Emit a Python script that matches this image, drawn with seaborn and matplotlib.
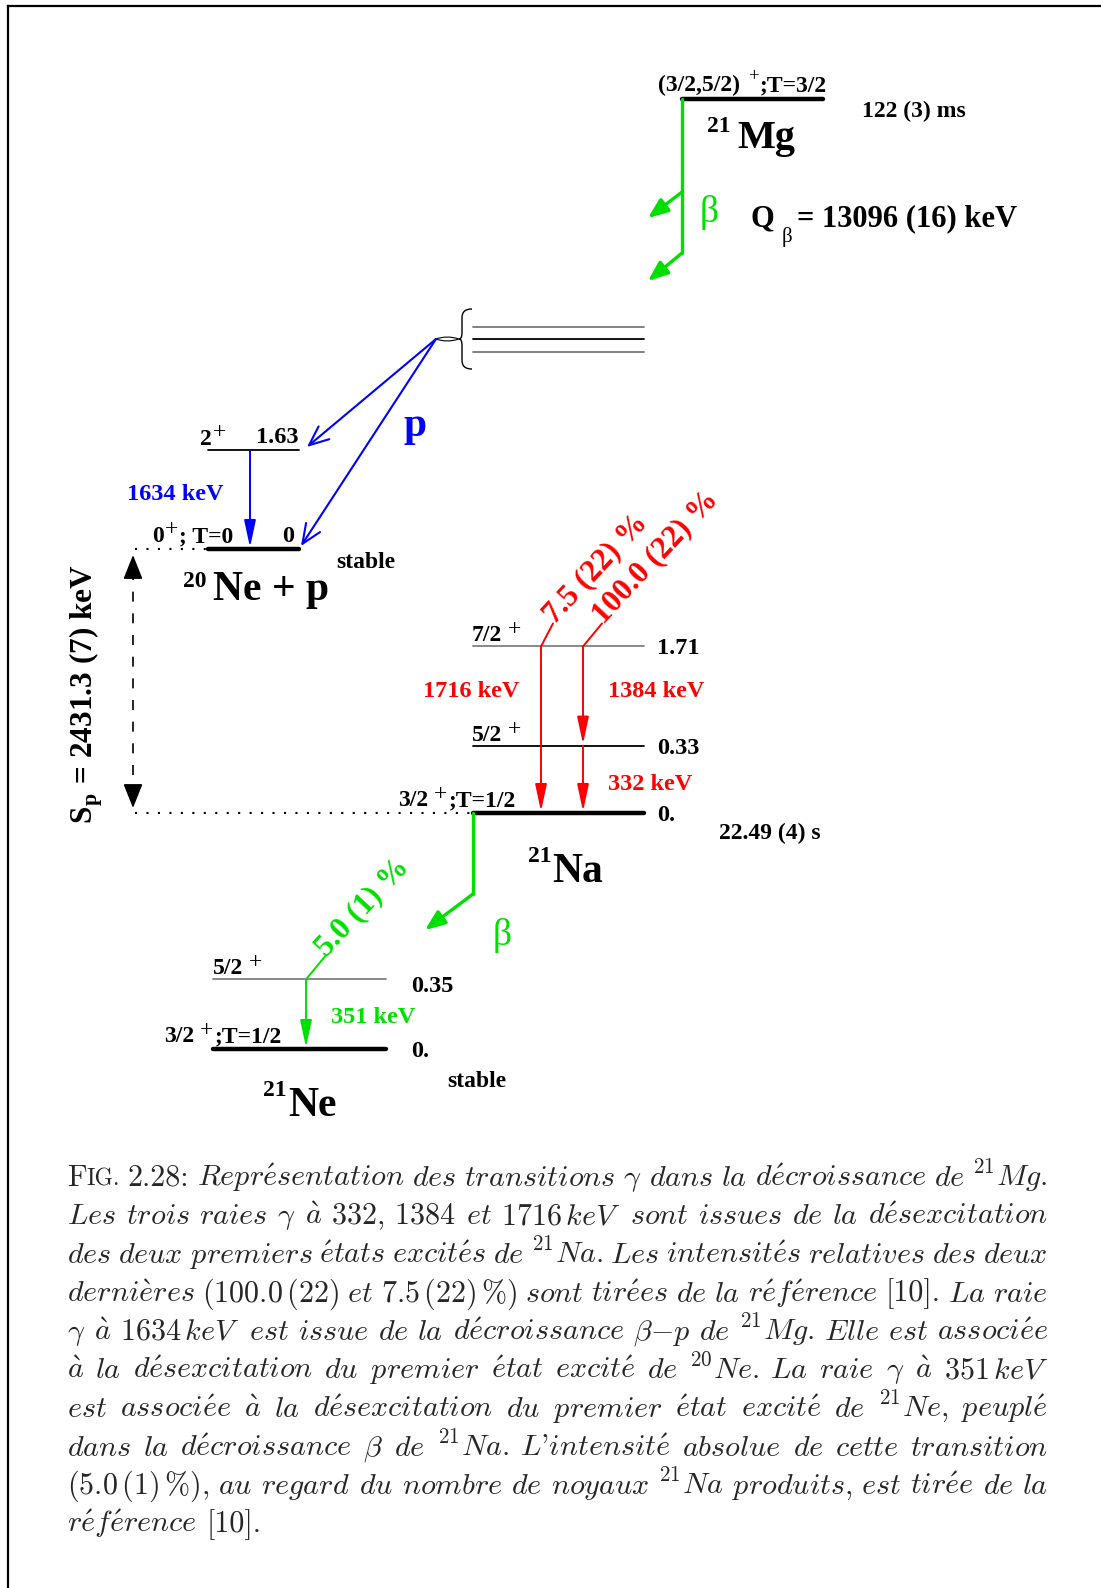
import matplotlib
matplotlib.use("Agg")
import matplotlib.pyplot as plt
from matplotlib.path import Path
from matplotlib.patches import PathPatch
import pandas as pd
import seaborn as sns

# ---------------- data ----------------
# levels: nucleus, energy (MeV), spin (base, parity, tail), energy label
LEVEL_NUCLEUS = ["21Mg", "20Ne", "20Ne", "21Na", "21Na", "21Na", "21Ne", "21Ne"]
LEVEL_ENERGY = [0.0, 0.0, 1.63, 0.0, 0.33, 1.71, 0.0, 0.35]
LEVEL_SPIN = ["(3/2,5/2)", "0", "2", "3/2", "5/2", "7/2", "3/2", "5/2"]
LEVEL_PARITY = ["+", "+", "+", "+", "+", "+", "+", "+"]
LEVEL_ISOSPIN = [";T=3/2", "; T=0", "", ";T=1/2", "", "", ";T=1/2", ""]
LEVEL_TEXT = ["", "0", "1.63", "0.", "0.33", "1.71", "0.", "0.35"]

NUCLEI = ["21Mg", "20Ne", "21Na", "21Ne"]
NUCLEUS_MASS = ["21", "20", "21", "21"]
NUCLEUS_SYMBOL = ["Mg", "Ne + p", "Na", "Ne"]
NUCLEUS_LIFE = ["122 (3) ms", "stable", "22.49 (4) s", "stable"]

# gamma transitions (level indices)
GAMMA_KEV = [1634, 1716, 1384, 332, 351]
GAMMA_FROM = [2, 5, 5, 4, 7]
GAMMA_TO = [1, 3, 4, 3, 6]
GAMMA_INTENSITY = ["", "7.5 (22) %", "100.0 (22) %", "", "5.0 (1) %"]

Q_BETA = "13096 (16) keV"
S_P = "2431.3 (7) keV"

CAPTION_LINES = [
    ["FIG.", "2.28:", r"$\mathit{Repr\acute{e}sentation}$", r"$\mathit{des}$", r"$\mathit{transitions}$",
     r"$\gamma$", r"$\mathit{dans}$", r"$\mathit{la}$", r"$\mathit{d\acute{e}croissance}$", r"$\mathit{de}$",
     r"$^{\mathrm{21}}\mathit{Mg}$."],
    [r"$\mathit{Les}$", r"$\mathit{trois}$", r"$\mathit{raies}$", r"$\gamma$", r"$\mathit{\grave{a}}$",
     r"$\mathrm{332,\,1384}$", r"$\mathit{et}$", r"$\mathrm{1716}\,\mathit{keV}$", r"$\mathit{sont}$",
     r"$\mathit{issues}$", r"$\mathit{de}$", r"$\mathit{la}$", r"$\mathit{d\acute{e}sexcitation}$"],
    [r"$\mathit{des}$", r"$\mathit{deux}$", r"$\mathit{premiers}$", r"$\mathit{\acute{e}tats}$",
     r"$\mathit{excit\acute{e}s}$", r"$\mathit{de}$", r"$^{\mathrm{21}}\mathit{Na}$.", r"$\mathit{Les}$",
     r"$\mathit{intensit\acute{e}s}$", r"$\mathit{relatives}$", r"$\mathit{des}$", r"$\mathit{deux}$"],
    [r"$\mathit{derni\grave{e}res}$", r"$\mathrm{(100.0\,(22)}$", r"$\mathit{et}$",
     r"$\mathrm{7.5\,(22)\,\%)}$", r"$\mathit{sont}$", r"$\mathit{tir\acute{e}es}$", r"$\mathit{de}$",
     r"$\mathit{la}$", r"$\mathit{r\acute{e}f\acute{e}rence}$", "[10].", r"$\mathit{La}$", r"$\mathit{raie}$"],
    [r"$\gamma$", r"$\mathit{\grave{a}}$", r"$\mathrm{1634}\,\mathit{keV}$", r"$\mathit{est}$",
     r"$\mathit{issue}$", r"$\mathit{de}$", r"$\mathit{la}$", r"$\mathit{d\acute{e}croissance}$",
     r"$\beta{-}\mathit{p}$", r"$\mathit{de}$", r"$^{\mathrm{21}}\mathit{Mg}$.", r"$\mathit{Elle}$",
     r"$\mathit{est}$", r"$\mathit{associ\acute{e}e}$"],
    [r"$\mathit{\grave{a}}$", r"$\mathit{la}$", r"$\mathit{d\acute{e}sexcitation}$", r"$\mathit{du}$",
     r"$\mathit{premier}$", r"$\mathit{\acute{e}tat}$", r"$\mathit{excit\acute{e}}$", r"$\mathit{de}$",
     r"$^{\mathrm{20}}\mathit{Ne}$.", r"$\mathit{La}$", r"$\mathit{raie}$", r"$\gamma$",
     r"$\mathit{\grave{a}}$", r"$\mathrm{351}\,\mathit{keV}$"],
    [r"$\mathit{est}$", r"$\mathit{associ\acute{e}e}$", r"$\mathit{\grave{a}}$", r"$\mathit{la}$",
     r"$\mathit{d\acute{e}sexcitation}$", r"$\mathit{du}$", r"$\mathit{premier}$", r"$\mathit{\acute{e}tat}$",
     r"$\mathit{excit\acute{e}}$", r"$\mathit{de}$", r"$^{\mathrm{21}}\mathit{Ne}$,", r"$\mathit{peupl\acute{e}}$"],
    [r"$\mathit{dans}$", r"$\mathit{la}$", r"$\mathit{d\acute{e}croissance}$", r"$\beta$", r"$\mathit{de}$",
     r"$^{\mathrm{21}}\mathit{Na}$.", r"$\mathit{L}$'$\mathit{intensit\acute{e}}$", r"$\mathit{absolue}$",
     r"$\mathit{de}$", r"$\mathit{cette}$", r"$\mathit{transition}$"],
    [r"$\mathrm{(5.0\,(1)\,\%),}$", r"$\mathit{au}$", r"$\mathit{regard}$", r"$\mathit{du}$",
     r"$\mathit{nombre}$", r"$\mathit{de}$", r"$\mathit{noyaux}$", r"$^{\mathrm{21}}\mathit{Na}$",
     r"$\mathit{produits}$,", r"$\mathit{est}$", r"$\mathit{tir\acute{e}e}$", r"$\mathit{de}$", r"$\mathit{la}$"],
    [r"$\mathit{r\acute{e}f\acute{e}rence}$", "[10]."],
]

# ---------------- layout (pixels, y down) ----------------
W, H = 1101, 1588
NUC_X = {"21Mg": (682, 823), "20Ne": (208, 299), "21Na": (473, 644), "21Ne": (213, 386)}
NUC_GS_Y = {"21Mg": 99, "20Ne": 549, "21Na": 813, "21Ne": 1049}
NUC_SCALE = {"21Mg": 0.0, "20Ne": 75.7, "21Na": 124.0, "21Ne": 124.0}   # compressed energy scale
LEVEL_COLOR = ["black", "black", "black", "black", "black", "#808080", "black", "#808080"]
SPIN_X = [658, 152, 200, 398, 472, 472, 164, 213]
SPIN_DY = [-8, -7, -5, -7, -5, -5, -7, -5]   # baseline above the level line
SPIN_SIZE = [17, 17, 17, 17, 17, 17, 17, 17]
SPIN_GAP = [8, 1, 1, 6, 6, 6, 6, 6]          # space before the parity sign
SPIN_RAISE = [10, 7, 7, 6, 6, 6, 6, 6]       # parity sign raised (px)
SPIN_PSIZE = [0.8, 1.0, 1.0, 1.0, 1.0, 1.0, 1.0, 1.0]
EN_X = [0, 282, 256, 657, 657, 657, 411, 411]
EN_DY = [0, -7, -7, 8, 8, 8, 8, 13]
NAME_POS = {"21Mg": (707, 132, 737, 148, 29), "20Ne": (183, 587, 213, 600, 30),
            "21Na": (528, 862, 552, 882, 30), "21Ne": (263, 1096, 288, 1116, 30)}
LIFE_POS = {"21Mg": (862, 117), "20Ne": (336, 568), "21Na": (719, 839), "21Ne": (447, 1087)}
GAMMA_X = [250, 541, 583, 583, 306]
GAMMA_COLOR = ["#0000ff", "#ff0000", "#ff0000", "#ff0000", "#00e000"]
GAMMA_LABEL_POS = [(127, 500), (423, 697), (608, 697), (608, 790), (331, 1023)]
TICK_DX = [0, 12, 19, 0, 19]
GREEN = "#00e000"
BLUE = "#0000ff"
FONT = "Liberation Serif"
LBL = 17.5

sns.set_theme(style="white")
plt.rcParams["font.family"] = [FONT, "DejaVu Serif"]
plt.rcParams["mathtext.fontset"] = "cm"

fig = plt.figure(figsize=(W / 100, H / 100), dpi=100)
ax = fig.add_axes([0, 0, 1, 1])
ax.set_xlim(0, W)
ax.set_ylim(H, 0)
renderer = fig.canvas.get_renderer()


def width(t):
    return t.get_window_extent(renderer=renderer).width


def level_y(i):
    nuc = LEVEL_NUCLEUS[i]
    return NUC_GS_Y[nuc] - NUC_SCALE[nuc] * LEVEL_ENERGY[i] ** 0.55


def arrow(start, tip, color, lw, style, ms=20):
    ax.annotate("", xy=tip, xytext=start,
                arrowprops=dict(arrowstyle=style, color=color, lw=lw, shrinkA=0, shrinkB=0,
                                mutation_scale=ms))


def label(x, y, s, size=LBL, color="black", weight="bold", **kw):
    kw.setdefault("ha", "left")
    kw.setdefault("va", "baseline")
    return ax.text(x, y, s, fontsize=size, color=color, fontweight=weight, family=FONT, **kw)


# frame
ax.plot([8, 8], [6, H], color="black", lw=1.6, solid_capstyle="projecting")
ax.plot([8, W], [6, 6], color="black", lw=1.6, solid_capstyle="projecting")

# levels
rows = []
for i, nuc in enumerate(LEVEL_NUCLEUS):
    x0, x1 = NUC_X[nuc]
    rows += [dict(level=i, x=x0, y=level_y(i)), dict(level=i, x=x1, y=level_y(i))]
levels = pd.DataFrame(rows)
for i, grp in levels.groupby("level"):
    ground = LEVEL_ENERGY[i] == 0.0
    sns.lineplot(data=grp, x="x", y="y", ax=ax, estimator=None, sort=False, legend=False,
                 color=LEVEL_COLOR[i], linewidth=3.2 if ground else 1.3)

# level labels: spin, raised parity, isospin, energy
for i, nuc in enumerate(LEVEL_NUCLEUS):
    y = level_y(i)
    yb = y + SPIN_DY[i]
    base = label(SPIN_X[i], yb, LEVEL_SPIN[i], size=SPIN_SIZE[i])
    x = SPIN_X[i] + width(base) + SPIN_GAP[i]
    par = label(x, yb - SPIN_RAISE[i], LEVEL_PARITY[i], size=SPIN_SIZE[i] * SPIN_PSIZE[i], weight="normal")
    x += width(par) + 1
    if LEVEL_ISOSPIN[i]:
        label(x, yb, LEVEL_ISOSPIN[i], size=SPIN_SIZE[i])
    if LEVEL_TEXT[i]:
        label(EN_X[i], y + EN_DY[i], LEVEL_TEXT[i])

# nucleus names and lifetimes
for k, nuc in enumerate(NUCLEI):
    mx, my, sx, sy, fs = NAME_POS[nuc]
    label(mx, my, NUCLEUS_MASS[k], size=17)
    label(sx, sy, NUCLEUS_SYMBOL[k], size=fs)
    lx, ly = LIFE_POS[nuc]
    label(lx, ly, NUCLEUS_LIFE[k], size=17)

# gamma transitions
for g in range(len(GAMMA_KEV)):
    x = GAMMA_X[g]
    y0, y1 = level_y(GAMMA_FROM[g]), level_y(GAMMA_TO[g])
    arrow((x, y0), (x, y1 - 1.5), GAMMA_COLOR[g], 1.4,
          "-|>,head_length=0.75,head_width=0.16", ms=22)
    lx, ly = GAMMA_LABEL_POS[g]
    label(lx, ly, f"{GAMMA_KEV[g]} keV", color=GAMMA_COLOR[g])
    if GAMMA_INTENSITY[g]:
        tx, ty = x + TICK_DX[g], y0 - 23
        ax.plot([x, tx], [y0, ty], color=GAMMA_COLOR[g], lw=1.4)
        label(tx + 1, ty + 1, GAMMA_INTENSITY[g], size=22.5, color=GAMMA_COLOR[g],
              rotation=47, rotation_mode="anchor")

# beta decay 21Mg -> 21Na
mg_x, mg_y = NUC_X["21Mg"][0], level_y(0)
ax.plot([mg_x, mg_x], [mg_y, 253], color=GREEN, lw=2.4)
for yb, yt in [(192, 218), (253, 281)]:
    arrow((mg_x, yb), (648, yt), GREEN, 2.4, "-|>,head_length=0.55,head_width=0.22", ms=22)
label(700, 222, "β", size=27, color=GREEN, weight="normal")
label(750, 226, "Q", size=22)
label(782, 242, "β", size=15, weight="normal")
label(797, 226, "= " + Q_BETA, size=22)

# beta-delayed protons
for yy, col in [(327, "#777777"), (339, "black"), (352, "#777777")]:
    ax.plot([473, 644], [yy, yy], color=col, lw=1.3)
brace = Path([(472, 309), (465, 309), (462, 312), (462, 318), (462, 332),
              (462, 337), (461, 339), (459, 339),
              (461, 339), (462, 341), (462, 346), (462, 360),
              (462, 366), (465, 369), (472, 369)],
             [Path.MOVETO, Path.CURVE4, Path.CURVE4, Path.CURVE4, Path.LINETO,
              Path.CURVE4, Path.CURVE4, Path.CURVE4,
              Path.CURVE4, Path.CURVE4, Path.CURVE4, Path.LINETO,
              Path.CURVE4, Path.CURVE4, Path.CURVE4])
ax.add_patch(PathPatch(brace, fill=False, lw=1.0, color="black"))
lens = Path([(436, 339), (447, 335), (459, 339), (447, 343), (436, 339)],
            [Path.MOVETO, Path.CURVE3, Path.CURVE3, Path.CURVE3, Path.CURVE3])
ax.add_patch(PathPatch(lens, fill=False, lw=0.8, color="black"))
ne_right = NUC_X["20Ne"][1]
arrow((436, 339), (ne_right + 8, level_y(2) - 3), BLUE, 1.5, "->,head_length=0.7,head_width=0.3", ms=20)
arrow((436, 339), (ne_right + 2, level_y(1) - 3), BLUE, 1.5, "->,head_length=0.7,head_width=0.3", ms=20)
label(403, 436, "p", size=30, color=BLUE)

# beta decay 21Na -> 21Ne
na_x, na_y = NUC_X["21Na"][0], level_y(3)
ax.plot([na_x, na_x], [na_y, 894], color=GREEN, lw=2.4)
arrow((na_x, 894), (425, 930), GREEN, 2.4, "-|>,head_length=0.55,head_width=0.22", ms=22)
label(493, 945, "β", size=27, color=GREEN, weight="normal")

# proton separation energy
ax.plot([135, NUC_X["20Ne"][0]], [level_y(1)] * 2, color="black", lw=1.5, ls=(0, (1, 4.5)))
ax.plot([135, NUC_X["21Na"][0]], [level_y(3)] * 2, color="black", lw=1.5, ls=(0, (1, 4.5)))
ax.plot([133, 133], [570, 793], color="black", lw=1.2, ls=(0, (6, 7)))
arrow((133, 572), (133, 555), "black", 1.2, "-|>,head_length=0.75,head_width=0.3", ms=20)
arrow((133, 791), (133, 808), "black", 1.2, "-|>,head_length=0.75,head_width=0.3", ms=20)
label(86, 694, r"S$_{\mathdefault{p}}$ = " + S_P, size=22.5, rotation=90, ha="center", va="center")

# caption, justified; font shrunk just enough that every line keeps a minimal word gap
CAP_LEFT, CAP_RIGHT, CAP_TOP, CAP_STEP, CAP_SIZE = 67, 1048, 1186, 38.5, 22.5
lines = []
for k, words in enumerate(CAPTION_LINES):
    y = CAP_TOP + k * CAP_STEP
    groups = []
    for w in words:
        parts = [("F", 1.0), ("IG.", 0.78)] if w == "FIG." else [(w, 1.0)]
        groups.append([(ax.text(0, y, s, fontsize=CAP_SIZE * f, family="cmr10", ha="left", va="baseline"), f)
                       for s, f in parts])
    lines.append(groups)

min_gap = 0.22 * CAP_SIZE * 100 / 72
fit = 1.0
for groups in lines[:-1]:
    total = sum(width(a) for g in groups for a, _ in g)
    fit = min(fit, (CAP_RIGHT - CAP_LEFT - min_gap * (len(groups) - 1)) / total)
size = CAP_SIZE * fit
for k, groups in enumerate(lines):
    for g in groups:
        for a, f in g:
            a.set_fontsize(size * f)
    widths = [[width(a) for a, _ in g] for g in groups]
    total = sum(sum(ws) for ws in widths)
    if k < len(lines) - 1:
        gap = (CAP_RIGHT - CAP_LEFT - total) / (len(groups) - 1)
    else:
        gap = size * 100 / 72 * 0.33
    x = CAP_LEFT
    for g, ws in zip(groups, widths):
        for (a, _), wd in zip(g, ws):
            a.set_x(x)
            x += wd
        x += gap

ax.set_xlim(0, W)
ax.set_ylim(H, 0)
ax.axis("off")
fig.savefig("out.png", dpi=100, facecolor="white")
plt.close(fig)
